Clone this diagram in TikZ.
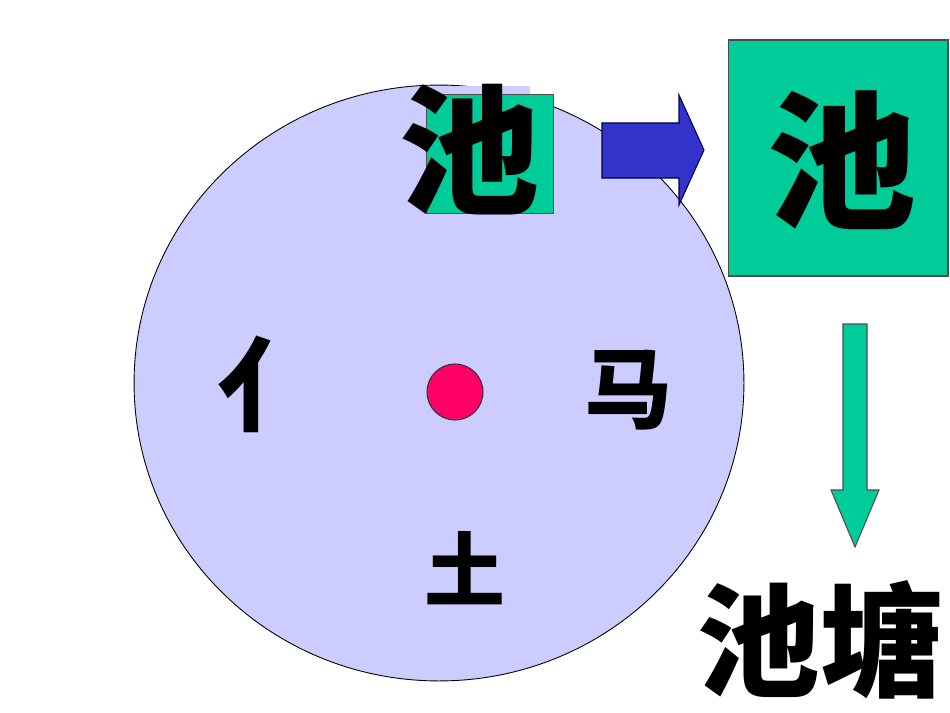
\documentclass[tikz,border=0pt]{standalone}
\usepackage{fontspec}
\newfontfamily\cjk{Noto Sans CJK SC}
\usetikzlibrary{positioning}
\definecolor{wheelfill}{HTML}{CCCCFF}
\definecolor{boxgreen}{HTML}{00CC99}
\definecolor{arrowblue}{HTML}{3333CC}
\definecolor{dotred}{HTML}{FF0066}

\begin{document}
\begin{tikzpicture}[x = 0.02cm, y = -0.02cm, line width = 0.6pt,
    box/.style = {draw = black!70, fill = boxgreen, inner sep = 0},
    hanzi/.style = {font = \cjk\bfseries\fontsize{#1}{#1}\selectfont, inner sep = 0}]

    \useasboundingbox (0,0) rectangle (950,713);

    % the wheel
    \draw[fill = wheelfill, line width = 0.5pt] (439,383) ellipse [x radius = 6.1cm, y radius = 5.96cm];
    \fill[wheelfill] (428,86) rectangle (530,120);

    \node (smallbox) at (490,154) [box, minimum width = 2.54cm, minimum height = 2.38cm] {};
    \node (smallchar) at (470,150) [hanzi = 80] {池};

    \node (dot) at (455,392) [circle, draw = black!80, fill = dotred, minimum size = 1.12cm, inner sep = 0] {};

    \node (left) at (268,384) [hanzi = 58] {亻};
    \node (right) at (628,390) [hanzi = 50] {马};
    \node (bottom) at (465,568) [hanzi = 46] {土};

    % arrow to the right
    \draw[fill = arrowblue, draw = black!70!blue] (602,123) -- (679,123) -- (679,95) -- (704,150)
        -- (679,205) -- (679,178) -- (602,178) -- cycle;

    \node (bigbox) at (838,158) [box, minimum width = 4.4cm, minimum height = 4.72cm] {};
    \node (bigchar) at (842,160) [hanzi = 85] {池};

    % arrow down
    \draw[fill = boxgreen, draw = black!70] (843,324) -- (867,324) -- (867,490) -- (879,490)
        -- (855,547) -- (831,490) -- (843,490) -- cycle;

    \node (word) at (820,640) [hanzi = 70] {池塘};

\end{tikzpicture}
\end{document}
